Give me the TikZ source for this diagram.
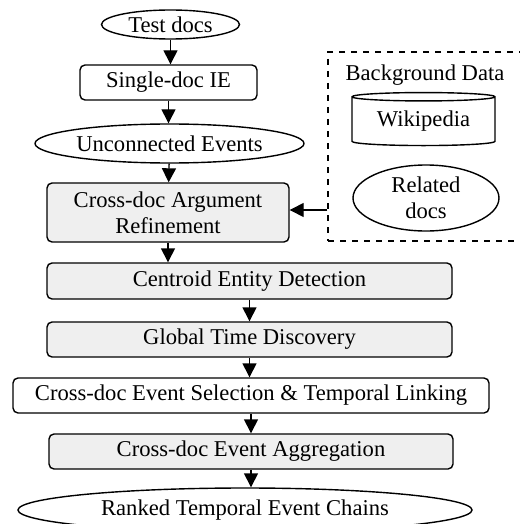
\documentclass[tikz,border=0pt]{standalone}
\usepackage{fontspec}
\setmainfont{Liberation Serif}
\usepackage{xcolor}
\usepackage{tikz}
\usetikzlibrary{shapes.geometric, arrows.meta, positioning, calc}
\definecolor{stepgray}{RGB}{239, 239, 239}

\tikzset{
    procbox/.style={draw, rounded corners=2.5pt, line width=0.7pt, fill=stepgray, inner sep=0pt, align=center},
    plainbox/.style={procbox, fill=white},
    dataell/.style={draw, ellipse, line width=0.7pt, inner sep=0pt, align=center},
    flow/.style={-{Triangle[length=7pt,width=7pt]}, line width=0.7pt}
}

\begin{document}
\begin{tikzpicture}[x=0.5pt, y=-0.5pt, font=\fontsize{11.3}{12.8}\selectfont]
        \useasboundingbox (0,0) rectangle (519,524);

        % main pipeline
        \node[dataell, minimum width=69pt, minimum height=14.5pt] (test) at (170.5,24.5) {Test docs};
        \node[plainbox, minimum width=88.5pt, minimum height=17.5pt] (single) at (168.5,82.5) {Single-doc IE};
        \node[dataell, minimum width=134.5pt, minimum height=19.5pt] (unconn) at (169.5,143.5) {Unconnected Events};
        \node[procbox, minimum width=121pt, minimum height=29.5pt] (arg) at (168,212.5) {Cross-doc Argument\\Refinement};
        \node[procbox, minimum width=202.5pt, minimum height=18pt] (centroid) at (249.5,281) {Centroid Entity Detection};
        \node[procbox, minimum width=202.5pt, minimum height=17.5pt] (global) at (249.5,339.5) {Global Time Discovery};
        \node[plainbox, minimum width=238pt, minimum height=17.5pt] (select) at (251,395.5) {Cross-doc Event Selection \& Temporal Linking};
        \node[procbox, minimum width=202pt, minimum height=17.5pt] (agg) at (251,451.5) {Cross-doc Event Aggregation};
        \node[dataell, minimum width=227pt, minimum height=22pt] (ranked) at (245,510) {Ranked Temporal Event Chains};

        % background data
        \node[draw, dashed, line width=0.7pt, minimum width=116pt, minimum height=94.5pt, inner sep=0pt] (bg) at (444,146.5) {};
        \node (bgtitle) at (425,75) {Background Data};
        \node[draw, cylinder, shape border rotate=90, aspect=0.09, line width=0.7pt, minimum width=71.5pt, minimum height=26.5pt, inner sep=0pt] (wiki) at (423.5,121.5) {Wikipedia};
        \node[dataell, minimum width=73pt, minimum height=33pt] (related) at (426,198) {Related\\docs};

        % connectors
        \draw[flow] (test.south) -- (test.south |- single.north);
        \draw[flow] (single.south) -- (single.south |- unconn.north);
        \draw[flow] (unconn) -- (arg);
        \draw[flow] (arg.south) -- (arg.south |- centroid.north);
        \draw[flow] (centroid.south) -- (centroid.south |- global.north);
        \draw[flow] (global.south) -- (global.south |- select.north);
        \draw[flow] (select.south) -- (select.south |- agg.north);
        \draw[flow] (agg.south) -- (agg.south |- ranked.north);
        \draw[flow] (bg.west |- 0,210) -- (arg.east |- 0,210);
    \end{tikzpicture}
\end{document}
